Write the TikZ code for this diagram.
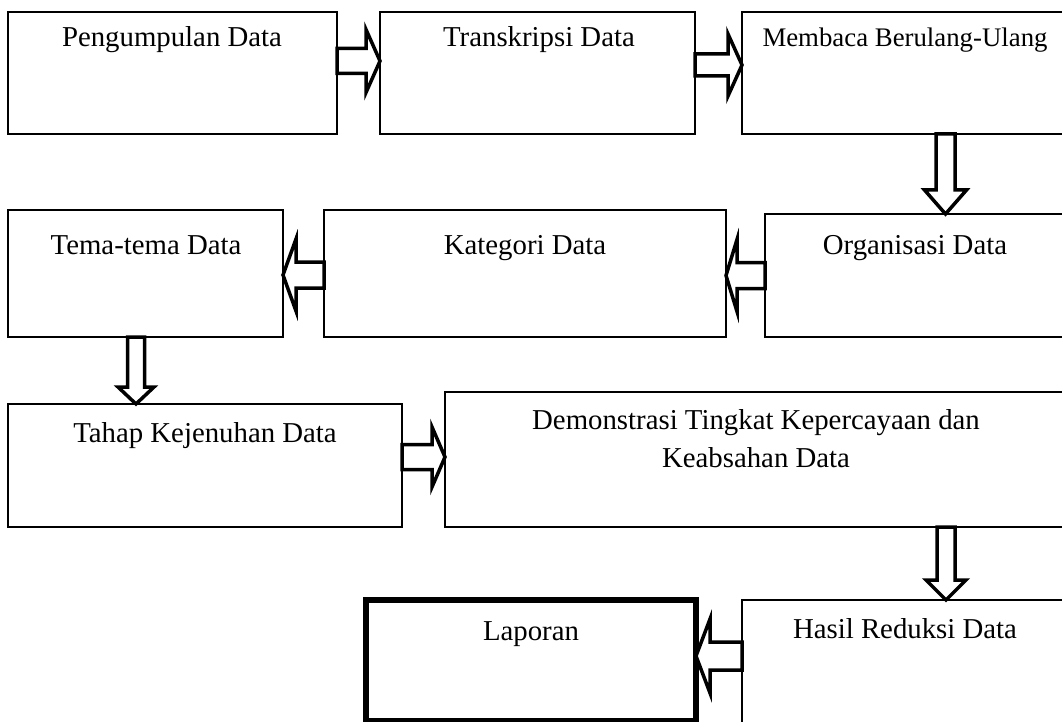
\documentclass[tikz,border=0pt]{standalone}
\usepackage{fontspec}
\setmainfont{Liberation Serif}
\usetikzlibrary{calc}
\tikzset{
  box/.style={draw, line width=1.3pt, anchor=north west, inner sep=0pt, outer sep=0pt},
  lbl/.style={anchor=base, inner sep=0pt, font=\fontsize{28.8}{38}\selectfont},
  blockarrow/.style={draw, line width=3.5pt, fill=white, miter limit=10},
  % hollow block arrows: #1 shaft half width, #2 head half width, #3 head length
  rblock/.style n args={3}{to path={let \p1=(\tikztostart), \p2=(\tikztotarget) in
    (\x1,\y1+#1) -- (\x2-#3,\y1+#1) -- (\x2-#3,\y1+#2) -- (\x2,\y1)
    -- (\x2-#3,\y1-#2) -- (\x2-#3,\y1-#1) -- (\x1,\y1-#1) -- cycle}},
  lblock/.style n args={3}{to path={let \p1=(\tikztostart), \p2=(\tikztotarget) in
    (\x1,\y1+#1) -- (\x2+#3,\y1+#1) -- (\x2+#3,\y1+#2) -- (\x2,\y1)
    -- (\x2+#3,\y1-#2) -- (\x2+#3,\y1-#1) -- (\x1,\y1-#1) -- cycle}},
  dblock/.style n args={3}{to path={let \p1=(\tikztostart), \p2=(\tikztotarget) in
    (\x1-#1,\y1) -- (\x1-#1,\y2+#3) -- (\x1-#2,\y2+#3) -- (\x1,\y2)
    -- (\x1+#2,\y2+#3) -- (\x1+#1,\y2+#3) -- (\x1+#1,\y1) -- cycle}},
}
\begin{document}
\begin{tikzpicture}[x=1pt,y=-1pt]
\useasboundingbox (0,0) rectangle (1062,722);
\clip (0,0) rectangle (1062,722);

% row 1
\node[box, minimum width=329pt, minimum height=122pt] (b1) at (8,12) {};
\node[box, minimum width=315pt, minimum height=122pt] (b2) at (380,12) {};
\node[box, minimum width=330pt, minimum height=122pt] (b3) at (742,12) {};
% row 2
\node[box, minimum width=275pt, minimum height=127pt] (b4) at (8,210) {};
\node[box, minimum width=402pt, minimum height=127pt] (b5) at (324,210) {};
\node[box, minimum width=310pt, minimum height=123pt] (b6) at (765,214) {};
% row 3
\node[box, minimum width=394pt, minimum height=123pt] (b7) at (8,404) {};
\node[box, minimum width=623pt, minimum height=135pt] (b8) at (445,392) {};
% row 4
\node[box, line width=6pt, minimum width=330pt, minimum height=121pt] (b9) at (366,600) {};
\node[box, minimum width=326pt, minimum height=140pt] (b10) at (742,600) {};

% labels
\node[lbl] (t1) at ($(b1.north west)+(164,35)$) {Pengumpulan Data};
\node[lbl] (t2) at ($(b2.north west)+(159,35)$) {Transkripsi Data};
\node[lbl, font=\fontsize{26.8}{32}\selectfont] (t3) at ($(b3.north west)+(163,35)$) {Membaca Berulang-Ulang};
\node[lbl] (t4) at ($(b4.north west)+(138,44)$) {Tema-tema Data};
\node[lbl] (t5) at ($(b5.north west)+(201,44)$) {Kategori Data};
\node[lbl] (t6) at ($(b6.north west)+(150,40)$) {Organisasi Data};
\node[lbl] (t7) at ($(b7.north west)+(197,38)$) {Tahap Kejenuhan Data};
\node[lbl, align=center] (t8) at ($(b8.north west)+(311,75)$) {Demonstrasi Tingkat Kepercayaan dan\\Keabsahan Data};
\node[lbl] (t9) at ($(b9.north west)+(165,40)$) {Laporan};
\node[lbl] (t10) at ($(b10.north west)+(163,38)$) {Hasil Reduksi Data};

% connectors
\draw[blockarrow] ([yshift=12pt]b1.east) to[rblock={12.5pt}{31.5pt}{14pt}] (b2.west);
\draw[blockarrow] ([yshift=8pt]b2.east) to[rblock={11pt}{31pt}{14pt}] (b3.west);
\draw[blockarrow] ([xshift=38.5pt]b3.south) to[dblock={9.5pt}{21pt}{24pt}] (b6.north);
\draw[blockarrow] ([yshift=0pt]b6.west) to[lblock={13pt}{36pt}{11pt}] (b5.east);
\draw[blockarrow] ([yshift=-1.5pt]b5.west) to[lblock={13pt}{36pt}{13pt}] (b4.east);
\draw[blockarrow] ([xshift=-9.5pt]b4.south) to[dblock={8.5pt}{18pt}{17pt}] (b7.north);
\draw[blockarrow] ([yshift=8.5pt]b7.east) to[rblock={12.5pt}{30pt}{13pt}] (b8.west);
\draw[blockarrow] ([xshift=189.5pt]b8.south) to[dblock={9pt}{20pt}{20pt}] (b10.north);
\draw[blockarrow] ([yshift=14pt]b10.west) to[lblock={14pt}{37pt}{14pt}] (b9.east);
\end{tikzpicture}
\end{document}
